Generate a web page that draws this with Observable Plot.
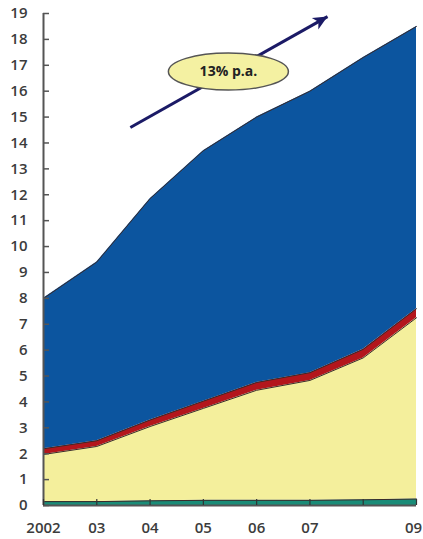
<!DOCTYPE html>
<html><head><meta charset="utf-8">
<script src="https://cdn.jsdelivr.net/npm/d3@7"></script>
<script src="https://cdn.jsdelivr.net/npm/@observablehq/plot@0.6"></script>
<style>body{margin:0;background:#fff}#chart svg{display:block}</style>
</head><body><div id="chart"></div>
<script>
// Data
const years = [2002, 2003, 2004, 2005, 2006, 2007, 2008, 2009];
const baseLayer = [0.15, 0.15, 0.18, 0.2, 0.2, 0.2, 0.22, 0.25];
const lowerLayer = [1.82, 2.13, 2.87, 3.55, 4.25, 4.63, 5.48, 7.0];
const bandLayer = [0.22, 0.22, 0.25, 0.28, 0.3, 0.3, 0.33, 0.35];
const upperLayer = [5.81, 6.9, 8.55, 9.67, 10.25, 10.87, 11.27, 10.9];
const layerNames = ["Layer 1", "Layer 2", "Layer 3", "Layer 4"];
const layerColors = ["#1a8c78", "#f4ef9c", "#b3161c", "#0c559f"];

const yTicks = d3.range(0, 20);
const xTickYears = years;
const xLabelYears = [2002, 2003, 2004, 2005, 2006, 2007];
const xLabels = ["2002", "03", "04", "05", "06", "07"];
const xLastYear = [2009];
const xLastLabel = ["09"];

const arrowData = [{x1: 2003.63, y1: 14.6, x2: 2007.33, y2: 18.88}];
const badge = [{x: 2005.47, y: 16.76, label: "13% p.a."}];

const series = [baseLayer, lowerLayer, bandLayer, upperLayer];
const table = [];
layerNames.forEach((name, i) => years.forEach((yr, j) => table.push({layer: name, year: yr, value: series[i][j]})));

const ellipseSymbol = {
  draw(ctx, size) {
    const r = Math.sqrt(size / Math.PI), rx = r, ry = r * 0.31, k = 0.5523;
    ctx.moveTo(rx, 0);
    ctx.bezierCurveTo(rx, ry * k, rx * k, ry, 0, ry);
    ctx.bezierCurveTo(-rx * k, ry, -rx, ry * k, -rx, 0);
    ctx.bezierCurveTo(-rx, -ry * k, -rx * k, -ry, 0, -ry);
    ctx.bezierCurveTo(rx * k, -ry, rx, -ry * k, rx, 0);
    ctx.closePath();
  }
};
// arrowhead with its tip at the origin, pointing up
const headSymbol = {
  draw(ctx, size) {
    const r = Math.sqrt(size / Math.PI);
    ctx.moveTo(0, 0);
    ctx.lineTo(-r * 0.6, r * 1.3);
    ctx.lineTo(0, r * 0.95);
    ctx.lineTo(r * 0.6, r * 1.3);
    ctx.closePath();
  }
};

const font = "'Open Sans', sans-serif";
const chart = Plot.plot({
  width: 423,
  height: 539,
  marginLeft: 43,
  marginRight: 7,
  marginTop: 13,
  marginBottom: 34,
  style: {fontFamily: font, fontSize: "15px", fontWeight: 600, color: "#3c3c3c", background: "#fff"},
  x: {domain: [2002, 2009]},
  y: {domain: [0, 19]},
  color: {domain: layerNames, range: layerColors},
  marks: [
    Plot.areaY(table, {x: "year", y: "value", fill: "layer", z: "layer"}),
    Plot.lineY(table, Plot.stackY2({x: "year", y: "value", z: "layer", stroke: "#3a2a2a", strokeWidth: 1})),
    Plot.ruleX([2002], {stroke: "#555", strokeWidth: 2}),
    Plot.ruleY([0], {stroke: "#555", strokeWidth: 2}),
    Plot.axisY(yTicks, {tickSize: -6, tickPadding: 22, stroke: "#555", strokeWidth: 1.5, label: null, fill: "#3c3c3c"}),
    Plot.axisX(xTickYears, {tickSize: -6, stroke: "#333", strokeWidth: 1.2, tickFormat: () => "", label: null}),
    Plot.axisX(xLabelYears, {tickSize: 0, tickPadding: 17, tickFormat: d => xLabels[xLabelYears.indexOf(d)], label: null, fill: "#3c3c3c"}),
    Plot.axisX(xLastYear, {tickSize: 0, tickPadding: 17, dx: -3, tickFormat: d => xLastLabel[xLastYear.indexOf(d)], label: null, fill: "#3c3c3c"}),
    Plot.link(arrowData, {x1: "x1", y1: "y1", x2: "x2", y2: "y2", stroke: "#1b1a66", strokeWidth: 3}),
    Plot.dot(arrowData, {x: "x2", y: "y2", symbol: headSymbol, r: 11, rotate: 60.6, fill: "#1b1a66", stroke: "none"}),
    Plot.dot(badge, {x: "x", y: "y", symbol: ellipseSymbol, r: 60, fill: "#f4f1a2", stroke: "#555", strokeWidth: 1.5}),
    Plot.text(badge, {x: "x", y: "y", text: "label", fontWeight: "bold", fontSize: 14, fill: "#222"})
  ]
});
document.getElementById("chart").appendChild(chart);
</script>
</body></html>
